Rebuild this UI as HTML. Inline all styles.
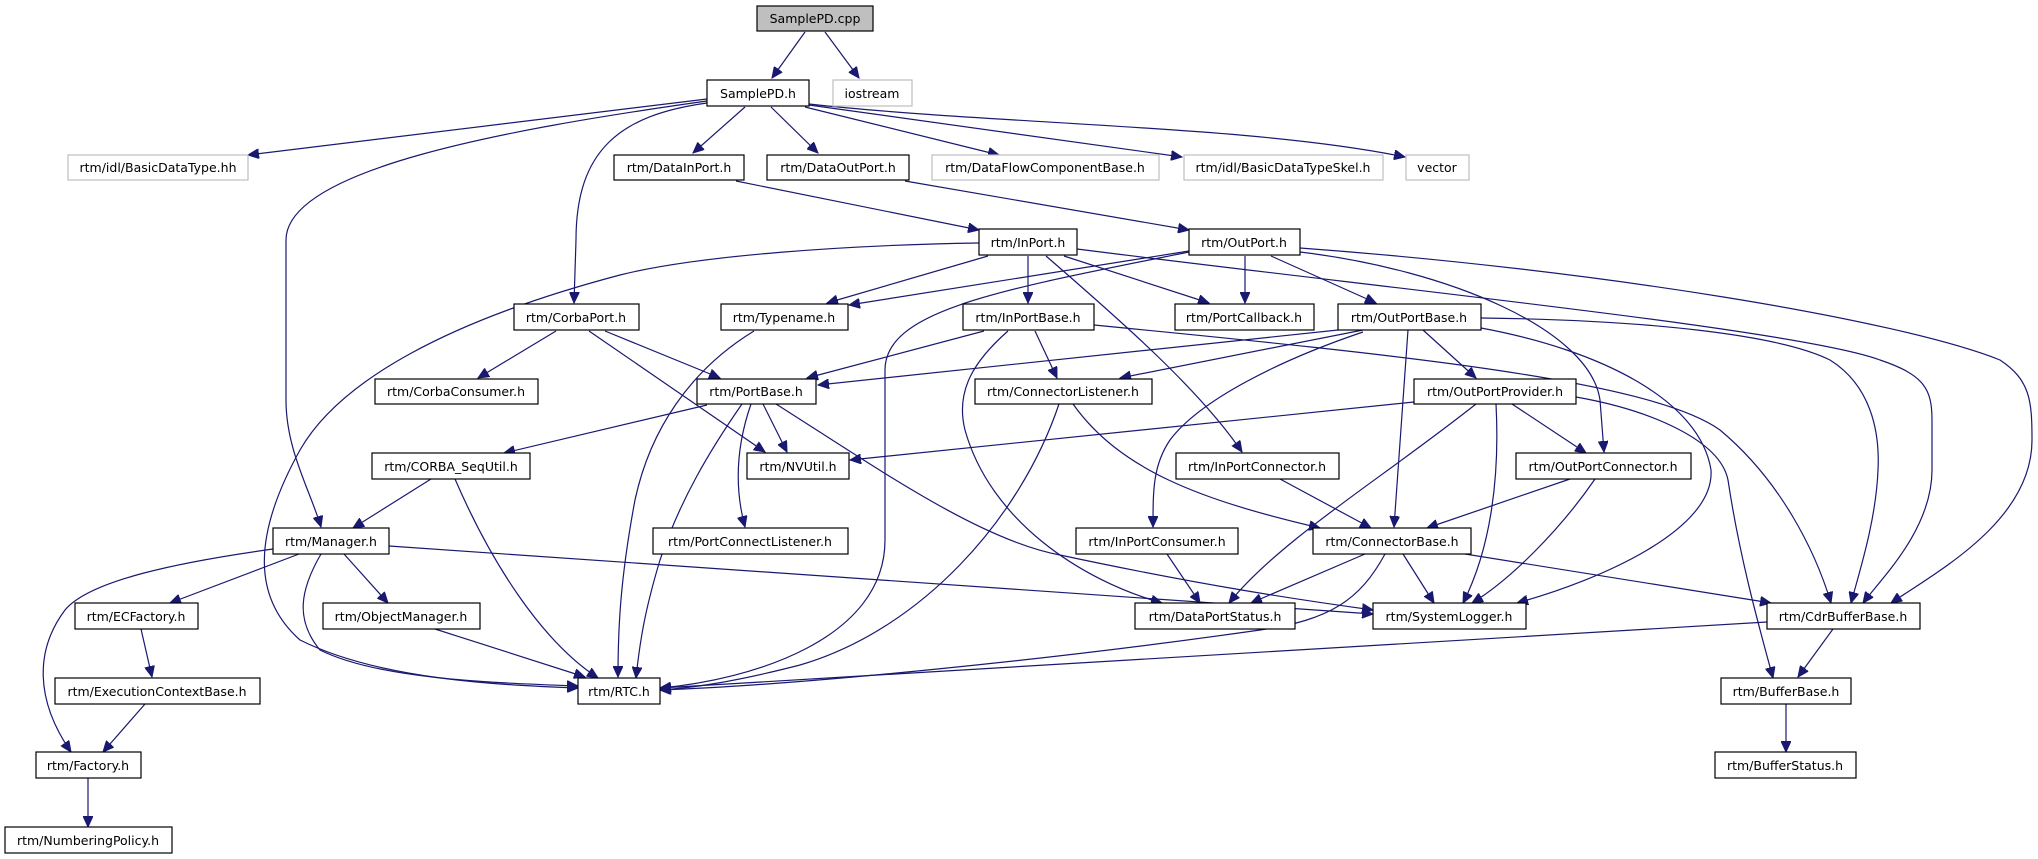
<!DOCTYPE html>
<html><head><meta charset="utf-8"><style>
html,body{margin:0;padding:0;background:#fff;}
svg{display:block;}
text{font-family:"DejaVu Sans","Liberation Sans",sans-serif;font-size:12.5px;fill:#000;}
.e{fill:none;stroke:#191970;stroke-width:1.2;marker-end:url(#a);}
.n{fill:#fff;stroke:#000;stroke-width:1.2;}
.g{fill:#fff;stroke:#bfbfbf;stroke-width:1.2;}
</style></head><body>
<svg width="2038" height="859" viewBox="0 0 2038 859" xmlns="http://www.w3.org/2000/svg">
<defs><marker id="a" markerUnits="userSpaceOnUse" markerWidth="12" markerHeight="10" refX="11" refY="5" orient="auto"><path d="M0,0 L11,5 L0,10 z" fill="#191970" stroke="#191970"/></marker></defs>
<g>
<path class="e" d="M805,32 L772,78"/>
<path class="e" d="M825,32 L859,78"/>
<path class="e" d="M707,99 L248,155"/>
<path class="e" d="M707,101 C500,130 286,170 286,240 L286,400 C286,450 310,490 321,527"/>
<path class="e" d="M707,103 C620,115 576,150 576,240 L574,303"/>
<path class="e" d="M745,107 L693,153"/>
<path class="e" d="M771,107 L818,153"/>
<path class="e" d="M805,107 L999,155"/>
<path class="e" d="M809,105 L1182,157"/>
<path class="e" d="M809,104 C1000,125 1250,125 1405,157"/>
<path class="e" d="M736,181 L979,230"/>
<path class="e" d="M905,181 L1189,230"/>
<path class="e" d="M979,243 C850,245 700,255 620,275 C450,320 340,380 300,450 C250,540 255,600 300,640 C380,680 500,685 578,688"/>
<path class="e" d="M988,256 L827,303"/>
<path class="e" d="M1028,256 L1028,303"/>
<path class="e" d="M1064,256 L1209,303"/>
<path class="e" d="M1046,256 C1120,320 1200,390 1242,452"/>
<path class="e" d="M1077,249 C1400,290 1800,330 1880,360 C1925,375 1932,390 1932,420 L1932,470 C1932,530 1880,580 1863,603"/>
<path class="e" d="M1300,248 C1600,270 1900,320 2000,360 C2030,380 2032,400 2032,440 C2032,520 1940,570 1891,603"/>
<path class="e" d="M1481,318 C1650,320 1780,335 1830,360 C1870,385 1880,430 1878,470 C1876,520 1860,570 1851,603"/>
<path class="e" d="M1094,325 C1400,355 1650,380 1720,430 C1780,480 1815,550 1831,603"/>
<path class="e" d="M1481,328 C1600,350 1700,400 1711,470 C1715,530 1600,580 1517,603"/>
<path class="e" d="M1576,397 C1650,410 1720,440 1728,480 C1740,560 1760,630 1773,678"/>
<path class="e" d="M1189,251 L849,305"/>
<path class="e" d="M1189,252 C1000,290 885,310 885,370 L885,540 C885,640 750,680 660,688"/>
<path class="e" d="M1245,256 L1245,303"/>
<path class="e" d="M1271,256 L1376,303"/>
<path class="e" d="M1300,252 C1450,270 1590,330 1600,400 L1604,452"/>
<path class="e" d="M556,331 L478,378"/>
<path class="e" d="M589,331 L765,452"/>
<path class="e" d="M605,331 L720,378"/>
<path class="e" d="M754,331 C690,370 650,430 635,500 C620,580 618,630 618,677"/>
<path class="e" d="M984,331 L807,378"/>
<path class="e" d="M1035,331 L1057,378"/>
<path class="e" d="M1008,331 C975,360 955,390 965,430 C990,520 1080,580 1162,603"/>
<path class="e" d="M1338,330 L818,385"/>
<path class="e" d="M1363,330 L1120,378"/>
<path class="e" d="M1363,332 C1280,360 1200,400 1170,440 C1153,465 1153,490 1153,527"/>
<path class="e" d="M1408,330 L1394,527"/>
<path class="e" d="M1423,330 L1476,378"/>
<path class="e" d="M1414,402 L850,460"/>
<path class="e" d="M1476,404 C1380,480 1280,540 1229,603"/>
<path class="e" d="M1496,404 C1500,480 1490,550 1463,603"/>
<path class="e" d="M1512,404 L1586,453"/>
<path class="e" d="M1570,479 L1427,528"/>
<path class="e" d="M1595,479 C1560,530 1510,580 1472,603"/>
<path class="e" d="M1280,479 L1371,528"/>
<path class="e" d="M1059,404 C1020,520 920,630 800,665 C730,683 690,688 660,690"/>
<path class="e" d="M1073,404 C1120,470 1200,500 1320,528"/>
<path class="e" d="M707,405 L504,453"/>
<path class="e" d="M763,404 L787,452"/>
<path class="e" d="M751,404 C735,450 735,490 745,527"/>
<path class="e" d="M742,404 C710,450 680,500 660,560 C645,610 640,640 636,678"/>
<path class="e" d="M776,404 C880,470 980,540 1060,555 C1200,585 1300,600 1373,610"/>
<path class="e" d="M431,479 L353,528"/>
<path class="e" d="M455,479 C490,560 540,640 598,678"/>
<path class="e" d="M273,549 C180,562 90,580 65,610 C35,650 35,700 71,752"/>
<path class="e" d="M299,554 L170,603"/>
<path class="e" d="M321,554 C300,590 295,620 320,650 C380,680 500,683 578,686"/>
<path class="e" d="M344,554 L388,603"/>
<path class="e" d="M389,546 L1373,614"/>
<path class="e" d="M141,629 L152,677"/>
<path class="e" d="M435,629 L585,677"/>
<path class="e" d="M145,704 L103,752"/>
<path class="e" d="M88,778 L88,827"/>
<path class="e" d="M1767,622 L660,688"/>
<path class="e" d="M1833,629 L1798,677"/>
<path class="e" d="M1786,704 L1786,752"/>
<path class="e" d="M1365,554 L1251,603"/>
<path class="e" d="M1385,554 C1360,600 1330,620 1260,630 C1050,660 800,685 660,690"/>
<path class="e" d="M1403,554 L1434,603"/>
<path class="e" d="M1465,554 L1771,603"/>
<path class="e" d="M1167,554 L1200,603"/>
</g>
<g>
<rect x="757" y="6" width="116" height="25" fill="#bfbfbf" stroke="#000" stroke-width="1.2"/><text x="815" y="23" text-anchor="middle">SamplePD.cpp</text>
<rect class="n" x="707" y="80" width="102" height="26"/><text x="758" y="98" text-anchor="middle">SamplePD.h</text>
<rect class="g" x="833" y="80" width="79" height="26"/><text x="872" y="98" text-anchor="middle">iostream</text>
<rect class="g" x="68" y="155" width="180" height="25"/><text x="158" y="172" text-anchor="middle">rtm/idl/BasicDataType.hh</text>
<rect class="n" x="614" y="155" width="130" height="25"/><text x="679" y="172" text-anchor="middle">rtm/DataInPort.h</text>
<rect class="n" x="767" y="155" width="142" height="25"/><text x="838" y="172" text-anchor="middle">rtm/DataOutPort.h</text>
<rect class="g" x="932" y="155" width="227" height="25"/><text x="1045" y="172" text-anchor="middle">rtm/DataFlowComponentBase.h</text>
<rect class="g" x="1184" y="155" width="199" height="25"/><text x="1283" y="172" text-anchor="middle">rtm/idl/BasicDataTypeSkel.h</text>
<rect class="g" x="1406" y="155" width="63" height="25"/><text x="1437" y="172" text-anchor="middle">vector</text>
<rect class="n" x="979" y="229" width="98" height="26"/><text x="1028" y="247" text-anchor="middle">rtm/InPort.h</text>
<rect class="n" x="1189" y="229" width="111" height="26"/><text x="1244" y="247" text-anchor="middle">rtm/OutPort.h</text>
<rect class="n" x="514" y="304" width="125" height="26"/><text x="576" y="322" text-anchor="middle">rtm/CorbaPort.h</text>
<rect class="n" x="721" y="304" width="127" height="26"/><text x="784" y="322" text-anchor="middle">rtm/Typename.h</text>
<rect class="n" x="963" y="304" width="131" height="26"/><text x="1028" y="322" text-anchor="middle">rtm/InPortBase.h</text>
<rect class="n" x="1175" y="304" width="139" height="26"/><text x="1244" y="322" text-anchor="middle">rtm/PortCallback.h</text>
<rect class="n" x="1338" y="304" width="143" height="26"/><text x="1409" y="322" text-anchor="middle">rtm/OutPortBase.h</text>
<rect class="n" x="375" y="379" width="163" height="25"/><text x="456" y="396" text-anchor="middle">rtm/CorbaConsumer.h</text>
<rect class="n" x="697" y="379" width="119" height="25"/><text x="756" y="396" text-anchor="middle">rtm/PortBase.h</text>
<rect class="n" x="975" y="379" width="177" height="25"/><text x="1063" y="396" text-anchor="middle">rtm/ConnectorListener.h</text>
<rect class="n" x="1414" y="379" width="162" height="25"/><text x="1495" y="396" text-anchor="middle">rtm/OutPortProvider.h</text>
<rect class="n" x="372" y="453" width="158" height="26"/><text x="451" y="471" text-anchor="middle">rtm/CORBA_SeqUtil.h</text>
<rect class="n" x="747" y="453" width="102" height="26"/><text x="798" y="471" text-anchor="middle">rtm/NVUtil.h</text>
<rect class="n" x="1176" y="453" width="163" height="26"/><text x="1257" y="471" text-anchor="middle">rtm/InPortConnector.h</text>
<rect class="n" x="1516" y="453" width="175" height="26"/><text x="1603" y="471" text-anchor="middle">rtm/OutPortConnector.h</text>
<rect class="n" x="273" y="528" width="116" height="26"/><text x="331" y="546" text-anchor="middle">rtm/Manager.h</text>
<rect class="n" x="653" y="528" width="195" height="26"/><text x="750" y="546" text-anchor="middle">rtm/PortConnectListener.h</text>
<rect class="n" x="1076" y="528" width="162" height="26"/><text x="1157" y="546" text-anchor="middle">rtm/InPortConsumer.h</text>
<rect class="n" x="1313" y="528" width="158" height="26"/><text x="1392" y="546" text-anchor="middle">rtm/ConnectorBase.h</text>
<rect class="n" x="75" y="603" width="123" height="26"/><text x="136" y="621" text-anchor="middle">rtm/ECFactory.h</text>
<rect class="n" x="323" y="603" width="157" height="26"/><text x="401" y="621" text-anchor="middle">rtm/ObjectManager.h</text>
<rect class="n" x="1135" y="603" width="160" height="26"/><text x="1215" y="621" text-anchor="middle">rtm/DataPortStatus.h</text>
<rect class="n" x="1373" y="603" width="153" height="26"/><text x="1449" y="621" text-anchor="middle">rtm/SystemLogger.h</text>
<rect class="n" x="1767" y="603" width="153" height="26"/><text x="1843" y="621" text-anchor="middle">rtm/CdrBufferBase.h</text>
<rect class="n" x="55" y="678" width="205" height="26"/><text x="157" y="696" text-anchor="middle">rtm/ExecutionContextBase.h</text>
<rect class="n" x="578" y="678" width="82" height="26"/><text x="619" y="696" text-anchor="middle">rtm/RTC.h</text>
<rect class="n" x="1721" y="678" width="130" height="26"/><text x="1786" y="696" text-anchor="middle">rtm/BufferBase.h</text>
<rect class="n" x="36" y="752" width="105" height="26"/><text x="88" y="770" text-anchor="middle">rtm/Factory.h</text>
<rect class="n" x="1715" y="752" width="141" height="26"/><text x="1785" y="770" text-anchor="middle">rtm/BufferStatus.h</text>
<rect class="n" x="5" y="827" width="167" height="26"/><text x="88" y="845" text-anchor="middle">rtm/NumberingPolicy.h</text>
</g>
</svg>
</body></html>
